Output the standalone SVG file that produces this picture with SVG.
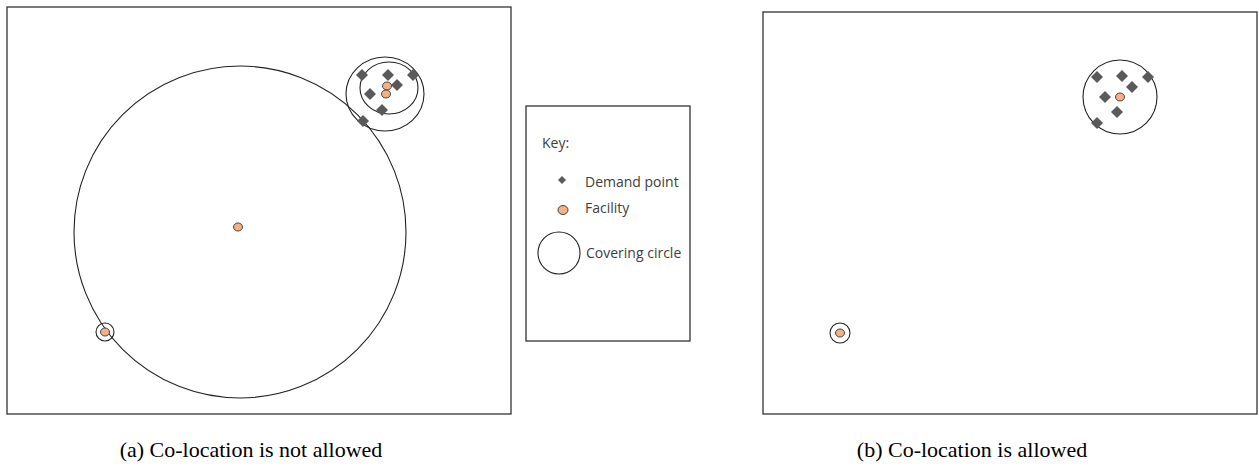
<svg xmlns="http://www.w3.org/2000/svg" width="1259" height="473" viewBox="0 0 1259 473">
<style>
.frame{fill:#fff;stroke:#333;stroke-width:1.3}
.cov{fill:none;stroke:#222;stroke-width:1.1}
.dem{fill:#5a5a5a}
.fac{fill:#f4b183;stroke:#444;stroke-width:1}
.key{font-family:"Open Sans","Liberation Sans",sans-serif;font-size:14px;fill:#404040}
.cap{font-family:"Liberation Serif",serif;font-size:22px;fill:#000}
</style>
<defs>
<path id="d" d="M0,-6 L6,0 L0,6 L-6,0 Z" class="dem"/>
</defs>
<g id="panel-a">
<rect class="frame" x="7" y="7" width="504" height="407"/>
<circle class="cov" cx="240" cy="232" r="166"/>
<ellipse class="cov" cx="385" cy="94" rx="39" ry="37"/>
<ellipse class="cov" cx="389" cy="88" rx="29" ry="26"/>
<circle class="cov" cx="105" cy="332" r="9"/>
<use href="#d" x="362" y="75"/>
<use href="#d" x="388" y="75"/>
<use href="#d" x="413" y="75"/>
<use href="#d" x="397" y="85"/>
<use href="#d" x="370" y="94"/>
<use href="#d" x="382" y="110"/>
<use href="#d" x="363" y="121"/>
<ellipse class="fac" cx="387" cy="86" rx="4.5" ry="4"/>
<ellipse class="fac" cx="386" cy="94" rx="4.5" ry="4"/>
<ellipse class="fac" cx="238" cy="227" rx="4.5" ry="4"/>
<ellipse class="fac" cx="105" cy="332" rx="4.5" ry="4"/>
</g>
<g id="legend">
<rect class="frame" x="526" y="106" width="164" height="235"/>
<text class="key" x="542" y="148">Key:</text>
<path d="M562,176 L566,180 L562,184 L558,180 Z" class="dem"/>
<text class="key" x="585" y="187">Demand point</text>
<ellipse class="fac" cx="563" cy="210" rx="5" ry="4.5"/>
<text class="key" x="585" y="213">Facility</text>
<circle class="cov" cx="559" cy="253" r="21"/>
<text class="key" x="586" y="258">Covering circle</text>
</g>
<g id="panel-b">
<rect class="frame" x="763" y="12" width="494" height="402"/>
<circle class="cov" cx="1120" cy="97" r="37"/>
<circle class="cov" cx="840" cy="333" r="10"/>
<use href="#d" x="1097" y="77"/>
<use href="#d" x="1122" y="76"/>
<use href="#d" x="1148" y="77"/>
<use href="#d" x="1132" y="87"/>
<use href="#d" x="1105" y="97"/>
<use href="#d" x="1117" y="112"/>
<use href="#d" x="1097" y="123"/>
<ellipse class="fac" cx="1120" cy="97" rx="4.5" ry="4"/>
<ellipse class="fac" cx="840" cy="333" rx="4.5" ry="4"/>
</g>
<g id="captions">
<text class="cap" x="251" y="457" text-anchor="middle">(a) Co-location is not allowed</text>
<text class="cap" x="972" y="457" text-anchor="middle">(b) Co-location is allowed</text>
</g>
</svg>
